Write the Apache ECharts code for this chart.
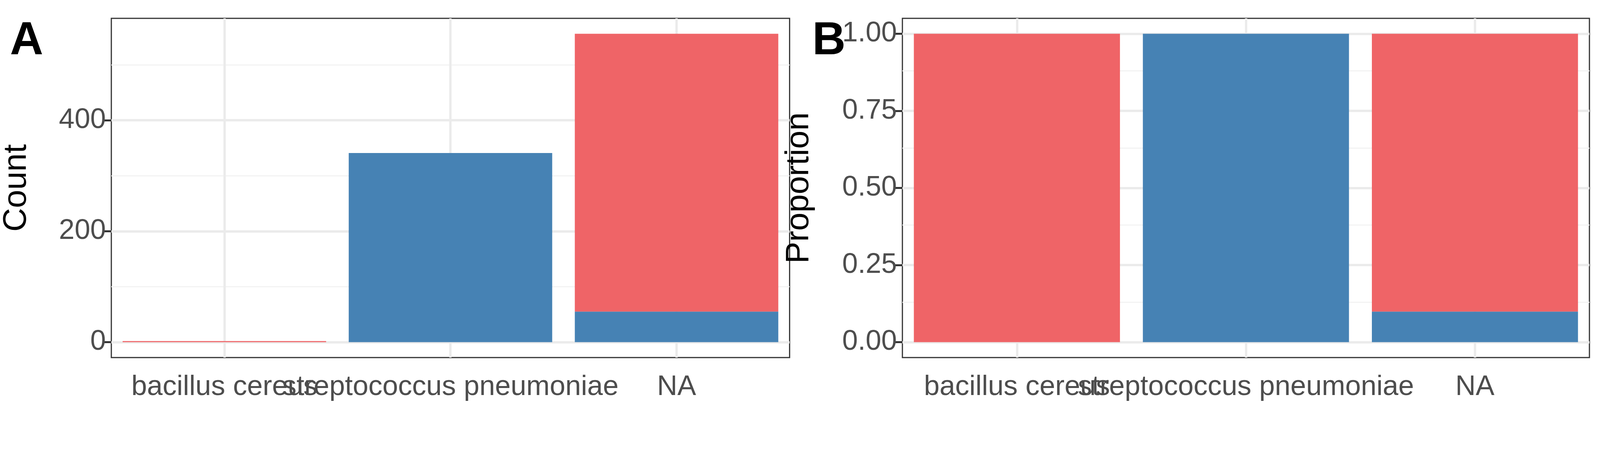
<!DOCTYPE html>
<html>
<head>
<meta charset="utf-8">
<script src="https://cdn.jsdelivr.net/npm/echarts@6/dist/echarts.min.js"></script>
<style>html,body{margin:0;padding:0;background:#fff;overflow:hidden}#chart{width:100vw;height:100vh}</style>
</head>
<body>
<div id="chart"></div>
<script>
// data
var categories = ['bacillus cereus', 'streptococcus pneumoniae', 'NA'];
var redCounts = [2, 0, 501];
var blueCounts = [0, 341, 55];
var countTicks = [0, 200, 400];
var countMinor = [100, 300, 500];
var propTicks = [0, 0.25, 0.5, 0.75, 1];
var propMinor = [0.125, 0.375, 0.625, 0.875];

var RED = '#EF6467', BLUE = '#4682B4';
var FONT = 'Liberation Sans';
var totals = categories.map(function (c, i) { return redCounts[i] + blueCounts[i]; });
var redProp = redCounts.map(function (v, i) { return v / totals[i]; });
var blueProp = blueCounts.map(function (v, i) { return v / totals[i]; });

function gridLines(major, minor) {
    var d = [];
    major.forEach(function (v) { d.push({yAxis: v, lineStyle: {color: '#EBEBEB', width: 6, type: 'solid'}}); });
    minor.forEach(function (v) { d.push({yAxis: v, lineStyle: {color: '#F3F3F3', width: 3, type: 'solid'}}); });
    categories.forEach(function (c) { d.push({xAxis: c, lineStyle: {color: '#EBEBEB', width: 6, type: 'solid'}}); });
    return d;
}

function xAx(idx) {
    return {
        type: 'category', gridIndex: idx, data: categories,
        axisLine: {show: false},
        axisTick: {show: true, alignWithLabel: true, length: 22, lineStyle: {color: '#333', width: 5}},
        axisLabel: {interval: 0, fontSize: 72, color: '#4D4D4D', fontFamily: FONT, margin: 40},
        splitLine: {show: false}
    };
}

function yAx(idx, name, min, max, ticks, gap, fmt) {
    return {
        type: 'value', gridIndex: idx, min: min, max: max,
        name: name, nameLocation: 'middle', nameGap: gap,
        nameTextStyle: {fontSize: 84, color: '#000', fontFamily: FONT},
        axisLine: {show: false},
        axisTick: {show: true, customValues: ticks, length: 22, lineStyle: {color: '#333', width: 5}},
        axisLabel: {customValues: ticks, fontSize: 72, color: '#4D4D4D', fontFamily: FONT, margin: 14, formatter: fmt},
        splitLine: {show: false}
    };
}

var chart = echarts.init(document.getElementById('chart'));
var option = {
    animation: false,
    backgroundColor: '#fff',
    title: [
        {text: 'A', left: '0.5%', top: 42, textStyle: {fontSize: 118, fontWeight: 'bold', color: '#000', fontFamily: FONT}},
        {text: 'B', left: '50.65%', top: 42, textStyle: {fontSize: 118, fontWeight: 'bold', color: '#000', fontFamily: FONT}}
    ],
    grid: [
        {left: '6%', right: '50.65%', top: 47, bottom: 265, show: true, borderColor: '#333', borderWidth: 3, backgroundColor: '#fff'},
        {left: '56.4%', right: '0.66%', top: 47, bottom: 265, show: true, borderColor: '#333', borderWidth: 3, backgroundColor: '#fff'}
    ],
    xAxis: [xAx(0), xAx(1)],
    yAxis: [
        yAx(0, 'Count', -27.8, 583.8, countTicks, 200, function (v) { return String(v); }),
        yAx(1, 'Proportion', -0.05, 1.05, propTicks, 222, function (v) { return v.toFixed(2); })
    ],
    series: [
        {type: 'line', xAxisIndex: 0, yAxisIndex: 0, data: [], z: 1, silent: true,
            markLine: {z: 1, silent: true, symbol: 'none', label: {show: false}, data: gridLines(countTicks, countMinor)}},
        {type: 'line', xAxisIndex: 1, yAxisIndex: 1, data: [], z: 1, silent: true,
            markLine: {z: 1, silent: true, symbol: 'none', label: {show: false}, data: gridLines(propTicks, propMinor)}},
        {name: 'blue', type: 'bar', stack: 'a', xAxisIndex: 0, yAxisIndex: 0, data: blueCounts, barCategoryGap: '10%', itemStyle: {color: BLUE}, z: 10},
        {name: 'red', type: 'bar', stack: 'a', xAxisIndex: 0, yAxisIndex: 0, data: redCounts, barCategoryGap: '10%', itemStyle: {color: RED}, z: 10},
        {name: 'blueP', type: 'bar', stack: 'b', xAxisIndex: 1, yAxisIndex: 1, data: blueProp, barCategoryGap: '10%', itemStyle: {color: BLUE}, z: 10},
        {name: 'redP', type: 'bar', stack: 'b', xAxisIndex: 1, yAxisIndex: 1, data: redProp, barCategoryGap: '10%', itemStyle: {color: RED}, z: 10}
    ]
};
chart.setOption(option);
</script>
</body>
</html>
